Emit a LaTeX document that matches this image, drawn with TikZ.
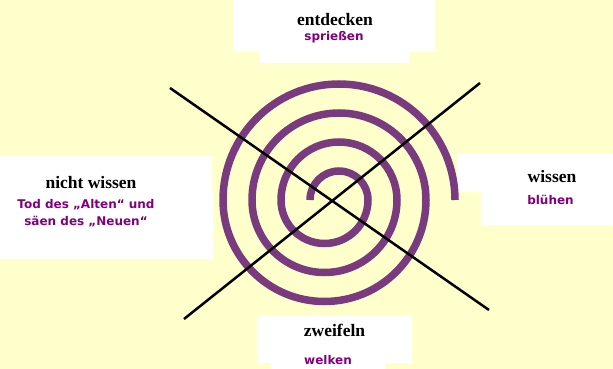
\documentclass[tikz,border=0pt]{standalone}
\usepackage{fontspec}
\setmainfont{Liberation Serif}
\newfontfamily\subfont{DejaVu Sans}
\definecolor{bgyellow}{RGB}{255,255,204}
\definecolor{subpurple}{RGB}{128,0,128}
\definecolor{spiralpurple}{RGB}{122,58,126}
\begin{document}
\begin{tikzpicture}[x=1pt,y=-1pt,
  head/.style={font=\fontsize{17.5}{20}\selectfont\bfseries, inner sep=0pt, anchor=base},
  sub/.style={font=\fontsize{12}{18}\selectfont\subfont\bfseries, text=subpurple, inner sep=0pt, anchor=base},
  panel/.style={fill=white, draw=none},
  spiralline/.style={draw=spiralpurple, line width=7.5pt},
  crossline/.style={draw=black, line width=2.5pt}]
\fill[bgyellow] (0,0) rectangle (613,369);
\useasboundingbox (0,0) rectangle (613,369);
% white panels
\path[panel] (233,0) rectangle (435,52) (260,52) rectangle (409,63);
\path[panel] (0,156) rectangle (212,192) (0,192) rectangle (213,259);
\path[panel] (457,153) rectangle (613,192) (481,192) rectangle (613,225);
\path[panel] (257,316) rectangle (412,363) (271,363) rectangle (385,369);
% spiral
\draw[spiralline] (310,200)
  arc[start angle=180,end angle=0,radius=29pt]
  arc[start angle=0,end angle=-180,radius=43.5pt]
  arc[start angle=180,end angle=0,radius=58pt]
  arc[start angle=0,end angle=-180,radius=72.5pt]
  arc[start angle=180,end angle=0,radius=87pt]
  arc[start angle=0,end angle=-180,radius=101.5pt]
  arc[start angle=180,end angle=0,radius=116pt];
% cross
\coordinate (x1a) at (170,88);
\coordinate (x1b) at (489,310);
\coordinate (x2a) at (480,83);
\coordinate (x2b) at (184,319);
\draw[crossline] (x1a) -- (x1b);
\draw[crossline] (x2a) -- (x2b);
% texts
\node[head] (entdecken) at (335,26) {entdecken};
\node[sub] (spriessen) at (334,40.5) {sprießen};
\node[head] (nichtwissen) at (91,188) {nicht wissen};
\node[sub] (tod) at (86,208) {Tod des „Alten“ und};
\node[sub] (saeen) at (86,225) {säen des „Neuen“};
\node[head] (wissen) at (552,182.7) {wissen};
\node[sub] (bluehen) at (550.5,204) {blühen};
\node[head] (zweifeln) at (334.5,336.7) {zweifeln};
\node[sub, anchor=base west] (welken) at (304,364) {welken};
\end{tikzpicture}
\end{document}
